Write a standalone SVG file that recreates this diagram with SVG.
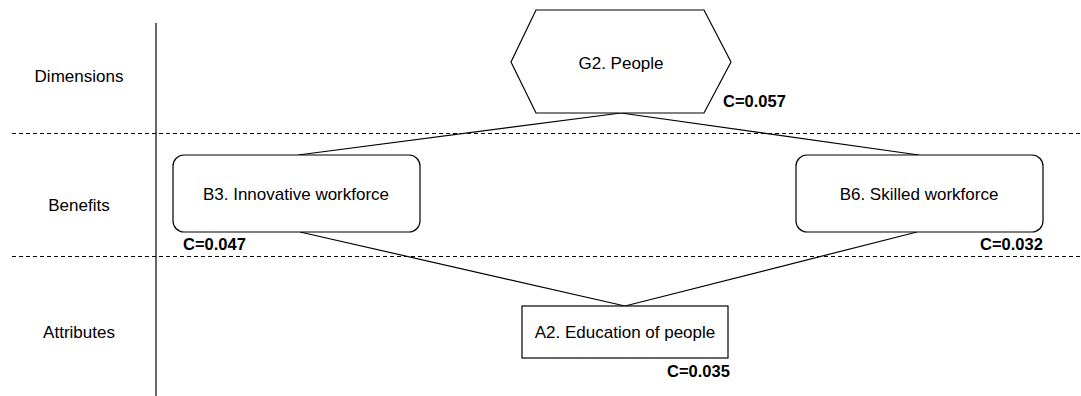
<svg xmlns="http://www.w3.org/2000/svg" width="1081" height="396" viewBox="0 0 1081 396">
  <style>
    .lbl { font-family: "Liberation Sans", Arial, sans-serif; font-size: 17px; fill: #000; }
    .val { font-family: "Liberation Sans", Arial, sans-serif; font-size: 16.5px; font-weight: bold; fill: #000; }
    .shape { fill: #fff; stroke: #000; stroke-width: 1.2; }
    .edge { stroke: #000; stroke-width: 1.2; fill: none; }
    .divider { stroke: #000; stroke-width: 1.2; stroke-dasharray: 4 3; }
  </style>
  <rect width="1081" height="396" fill="#fff"/>

  <!-- layer dividers -->
  <g id="layers">
    <line x1="156" y1="23" x2="156" y2="396" stroke="#000" stroke-width="1.2"/>
    <line class="divider" x1="12" y1="133.5" x2="1081" y2="133.5"/>
    <line class="divider" x1="12" y1="256.5" x2="1081" y2="256.5"/>
    <text class="lbl" x="79" y="82" text-anchor="middle">Dimensions</text>
    <text class="lbl" x="79" y="211" text-anchor="middle">Benefits</text>
    <text class="lbl" x="79" y="338" text-anchor="middle">Attributes</text>
  </g>

  <!-- connectors -->
  <g id="connectors">
    <line class="edge" x1="621" y1="113" x2="298" y2="155"/>
    <line class="edge" x1="621" y1="113" x2="919" y2="155"/>
    <line class="edge" x1="300" y1="232" x2="625" y2="306"/>
    <line class="edge" x1="917" y1="232" x2="625" y2="306"/>
  </g>

  <g id="G2">
    <polygon class="shape" points="536,10 704,10 731,62 704,113 536,113 511,62"/>
    <text class="lbl" x="621" y="69" text-anchor="middle">G2. People</text>
    <text class="val" x="723" y="107">C=0.057</text>
  </g>

  <g id="B3">
    <rect class="shape" x="173" y="155" width="247" height="77" rx="11"/>
    <text class="lbl" x="296" y="200" text-anchor="middle">B3. Innovative workforce</text>
    <text class="val" x="183" y="250">C=0.047</text>
  </g>

  <g id="B6">
    <rect class="shape" x="796" y="155" width="247" height="77" rx="11"/>
    <text class="lbl" x="919" y="200" text-anchor="middle">B6. Skilled workforce</text>
    <text class="val" x="980" y="250">C=0.032</text>
  </g>

  <g id="A2">
    <rect class="shape" x="522" y="306" width="206" height="52"/>
    <text class="lbl" x="625" y="338" text-anchor="middle">A2. Education of people</text>
    <text class="val" x="667" y="377">C=0.035</text>
  </g>
</svg>
